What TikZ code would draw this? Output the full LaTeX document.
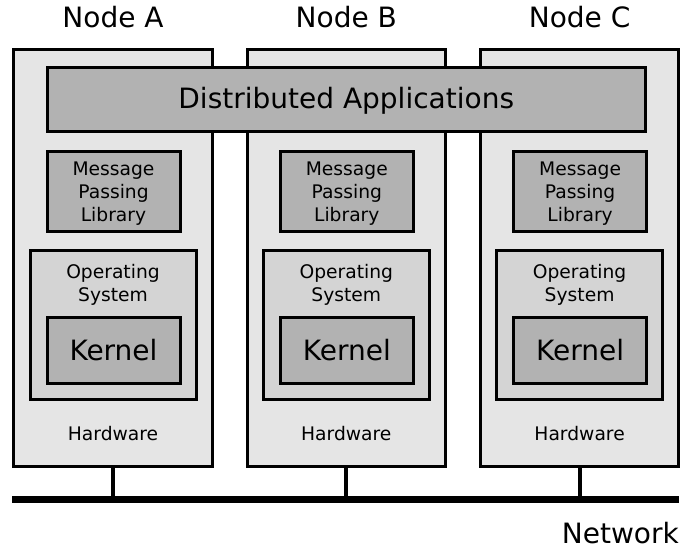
\documentclass[tikz,border=0pt]{standalone}
\usepackage{fontspec}
\setmainfont{DejaVu Sans}
\begin{document}
\begin{tikzpicture}[x=1pt,y=-1pt,
  box/.style={draw, line width=3pt, line join=miter, inner sep=0pt},
  hwbox/.style={box, fill=black!10, minimum width=198.5pt, minimum height=416pt},
  osbox/.style={box, fill=black!17, minimum width=166pt, minimum height=149pt},
  darkbox/.style={box, fill=black!30},
  big/.style={font=\fontsize{28}{33}\selectfont, inner sep=0pt},
  small/.style={font=\fontsize{18.7}{23}\selectfont, align=center, inner sep=0pt},
  stub/.style={line width=4pt},
  bus/.style={line width=6.5pt},
]
\useasboundingbox (0,0) rectangle (688,551);
\foreach \l/\x in {A/113, B/346.3, C/579.6} {
  \node[hwbox] (hw\l) at (\x,258) {};
  \node[big] (lab\l) at (\x,17) {Node \l};
  \node[small] (hwt\l) at (\x,433.5) {Hardware};
  \node[darkbox, minimum width=133pt, minimum height=80pt] (mpl\l) at (\x+0.5,191) {};
  \node[small] (mplt\l) at (\x+0.5,193.5) {Message\\Passing\\Library};
  \node[osbox] (os\l) at (\x,324.5) {};
  \node[small] (ost\l) at (\x,285) {Operating\\System};
  \node[darkbox, minimum width=133pt, minimum height=66pt, big] (k\l) at (\x+0.5,350) {Kernel};
  \coordinate (bus\l) at (\x,499.5);
  \draw[stub] (hw\l.south) -- (bus\l);
}
\node[darkbox, minimum width=597.5pt, minimum height=63pt] (apps) at (346.25,99.5) {};
\node[big] (appst) at (346.25,101) {Distributed Applications};
\coordinate (busL) at (12,499.5);
\coordinate (busR) at (679,499.5);
\draw[bus] (busL) -- (busR);
\node[big, anchor=east] (net) at (679,533) {Network};
\end{tikzpicture}
\end{document}
